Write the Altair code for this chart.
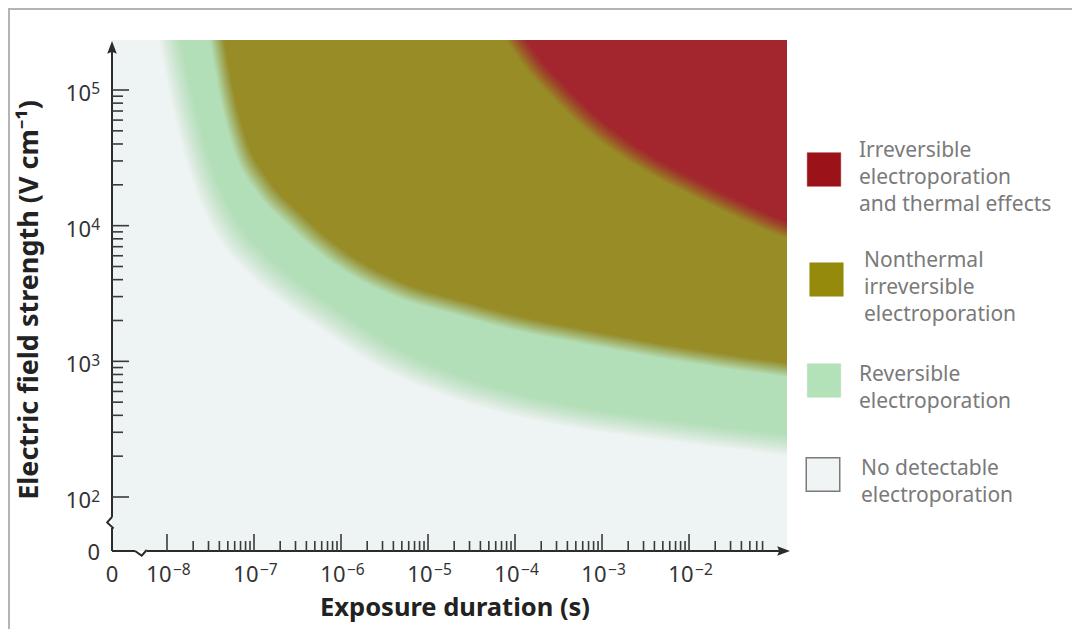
import altair as alt
import pandas as pd

# ---------------- data (log10 units) ----------------
# boundary curves: log10(exposure duration / s) -> log10(field strength / V cm-1)
reversible_log_t = [-8.080, -7.966, -7.851, -7.713, -7.529, -7.299, -6.989, -6.586, -6.126,
                    -5.517, -4.747, -3.977, -3.253, -2.103, -0.874, -0.379]
reversible_log_E = [5.811, 5.369, 5.000, 4.631, 4.263, 3.968, 3.732, 3.511, 3.305,
                    3.047, 2.826, 2.678, 2.582, 2.479, 2.383, 2.347]

nonthermal_log_t = [-7.552, -7.425, -7.299, -7.138, -6.908, -6.529, -6.011, -5.322, -4.632,
                    -3.943, -3.253, -2.184, -0.874, -0.379]
nonthermal_log_E = [5.811, 5.369, 4.926, 4.558, 4.300, 4.042, 3.762, 3.526, 3.393,
                    3.275, 3.187, 3.061, 2.936, 2.892]

thermal_log_t = [-4.402, -3.989, -3.770, -3.483, -3.138, -2.713, -2.333, -1.954, -1.414, -0.874, -0.379]
thermal_log_E = [5.811, 5.369, 5.177, 4.978, 4.764, 4.558, 4.410, 4.285, 4.116, 3.968, 3.894]

x_major = [1e-8, 1e-7, 1e-6, 1e-5, 1e-4, 1e-3, 1e-2]
x_major_exp = ["\u22128", "\u22127", "\u22126", "\u22125", "\u22124", "\u22123", "\u22122"]
x_minor = [m * 10.0 ** e for e in range(-8, -2) for m in range(2, 10)] + [m * 1e-2 for m in range(2, 8)]

y_major = [1e2, 1e3, 1e4, 1e5]
y_major_exp = ["2", "3", "4", "5"]
y_minor = [m * 10.0 ** e for e in range(2, 5) for m in range(2, 10)]

legend_names = [
    ["Irreversible", "electroporation", "and thermal effects"],
    ["Nonthermal", "irreversible", "electroporation"],
    ["Reversible", "electroporation"],
    ["No detectable", "electroporation"],
]
legend_colors = ["#9b1319", "#958a0b", "#b3e1b8", "#f0f4f5"]

# ---------------- layout / style ----------------
W, H = 675, 511
X_DOM = [10 ** -8.632, 10 ** -0.874]
Y_DOM = [10 ** 1.602, 10 ** 5.3685]
PX_PER_DEC_X, PX_PER_DEC_Y = 87.0, 135.67
FONT = "Noto Sans"
AX = "#2b2b2b"

xs = alt.Scale(type="log", domain=X_DOM, nice=False)
ys = alt.Scale(type="log", domain=Y_DOM, nice=False)
one = pd.DataFrame({"k": [0]})

layers = []


def region(lt, le, color, blur_px, n=14):
    out = []
    for k in range(n):
        s = -blur_px / 2 + blur_px * k / (n - 1)
        df = pd.DataFrame({
            "t": [10 ** (v + s / PX_PER_DEC_X) for v in lt],
            "E": [10 ** (v + s / PX_PER_DEC_Y) for v in le],
        })
        df["top"] = 10 ** 6.5
        out.append(
            alt.Chart(df).mark_area(color=color, opacity=1.0 / (n - k), clip=True,
                                    interpolate="monotone")
            .encode(x=alt.X("t:Q", scale=xs, axis=None),
                    y=alt.Y("E:Q", scale=ys, axis=None),
                    y2=alt.Y2("top:Q"))
        )
    return out


layers += region(reversible_log_t, reversible_log_E, "#b3dfb8", 18)
layers += region(nonthermal_log_t, nonthermal_log_E, "#988c27", 12)
layers += region(thermal_log_t, thermal_log_E, "#a3262f", 12)


# ---- axes lines ----
def rule(**kw):
    style = kw.pop("style", {})
    return alt.Chart(one).mark_rule(**style).encode(**kw)


axis_style = dict(color=AX, strokeWidth=2)
layers.append(rule(x=alt.value(0), y=alt.value(H), y2=alt.value(488), style=axis_style))
layers.append(rule(x=alt.value(0), y=alt.value(477), y2=alt.value(6), style=axis_style))
layers.append(rule(x=alt.value(0), x2=alt.value(23), y=alt.value(H), style=axis_style))
layers.append(rule(x=alt.value(35), x2=alt.value(670), y=alt.value(H), style=axis_style))

# axis break glyphs and arrowheads
layers.append(alt.Chart(one).mark_point(shape="M-1,0L0.12,0.78L0.95,-0.17", filled=False,
                                        stroke=AX, strokeWidth=2, size=144, opacity=1)
              .encode(x=alt.value(29), y=alt.value(H)))
layers.append(alt.Chart(one).mark_point(shape="M0,-1L-0.8,-0.1L0.15,0.8L0,1", filled=False,
                                        stroke=AX, strokeWidth=2, size=144, opacity=1)
              .encode(x=alt.value(0), y=alt.value(483)))
layers.append(alt.Chart(one).mark_point(shape="M0,-1L0.6,0.6L0,0.35L-0.6,0.6Z", filled=True,
                                        fill=AX, size=256, opacity=1, strokeWidth=0)
              .encode(x=alt.value(0), y=alt.value(9)))
layers.append(alt.Chart(one).mark_point(shape="M1,0L-0.6,0.6L-0.35,0L-0.6,-0.6Z", filled=True,
                                        fill=AX, size=256, opacity=1, strokeWidth=0)
              .encode(x=alt.value(670), y=alt.value(H)))

# ---- ticks ----
tick_style = dict(color="#3a3a3a", strokeWidth=1.6)
layers.append(alt.Chart(pd.DataFrame({"v": x_major})).mark_rule(**tick_style)
              .encode(x=alt.X("v:Q", scale=xs), y=alt.value(H), y2=alt.value(H - 17)))
layers.append(alt.Chart(pd.DataFrame({"v": x_minor})).mark_rule(**tick_style)
              .encode(x=alt.X("v:Q", scale=xs), y=alt.value(H), y2=alt.value(H - 10)))
layers.append(alt.Chart(pd.DataFrame({"v": y_major})).mark_rule(**tick_style)
              .encode(y=alt.Y("v:Q", scale=ys), x=alt.value(0), x2=alt.value(17)))
layers.append(alt.Chart(pd.DataFrame({"v": y_minor})).mark_rule(**tick_style)
              .encode(y=alt.Y("v:Q", scale=ys), x=alt.value(0), x2=alt.value(11)))

# ---- tick labels ("10" + raised exponent) ----
lab = dict(font=FONT, fontSize=22, color="#333333")
sup = dict(font=FONT, fontSize=15.5, color="#333333")
xdf = pd.DataFrame({"v": x_major, "base": ["10"] * len(x_major), "exp": x_major_exp})
ydf = pd.DataFrame({"v": y_major, "base": ["10"] * len(y_major), "exp": y_major_exp})
layers.append(alt.Chart(xdf).mark_text(align="right", baseline="alphabetic", dx=4.5, **lab)
              .encode(x=alt.X("v:Q", scale=xs), y=alt.value(542), text="base:N"))
layers.append(alt.Chart(xdf).mark_text(align="left", baseline="alphabetic", dx=6, **sup)
              .encode(x=alt.X("v:Q", scale=xs), y=alt.value(535), text="exp:N"))
layers.append(alt.Chart(ydf).mark_text(align="right", baseline="alphabetic", dy=11, **lab)
              .encode(y=alt.Y("v:Q", scale=ys), x=alt.value(-21), text="base:N"))
layers.append(alt.Chart(ydf).mark_text(align="right", baseline="alphabetic", dy=4.5, **sup)
              .encode(y=alt.Y("v:Q", scale=ys), x=alt.value(-12), text="exp:N"))
layers.append(alt.Chart(one).mark_text(align="center", baseline="alphabetic", **lab)
              .encode(x=alt.value(0), y=alt.value(542), text=alt.value("0")))
layers.append(alt.Chart(one).mark_text(align="right", baseline="alphabetic", **lab)
              .encode(x=alt.value(-12), y=alt.value(H + 9), text=alt.value("0")))

# ---- axis titles ----
ttl = dict(font=FONT, fontWeight="bold", color="#222222")
layers.append(alt.Chart(one).mark_text(align="center", baseline="alphabetic", fontSize=25.5, **ttl)
              .encode(x=alt.value(343), y=alt.value(576), text=alt.value("Exposure duration (s)")))
layers.append(alt.Chart(one).mark_text(align="center", baseline="middle", angle=270, fontSize=27, **ttl)
              .encode(x=alt.value(-82), y=alt.value(260),
                      text=alt.value("Electric field strength (V cm\u207b\u00b9)")))

# ---- legend ----
sq_x = [712, 714.5, 712, 711]
sq_y = [129.5, 239.5, 340.5, 434.5]
txt_x = [747, 752, 747, 749]
txt_y = [117, 227, 341, 435]
for i, (names, col) in enumerate(zip(legend_names, legend_colors)):
    stroke = "#7a7a7a" if i == 3 else col
    layers.append(alt.Chart(one).mark_point(shape="square", filled=True, fill=col, stroke=stroke,
                                            strokeWidth=1.5 if i == 3 else 0.5, size=1122, opacity=1)
                  .encode(x=alt.value(sq_x[i]), y=alt.value(sq_y[i])))
    for j, line in enumerate(names):
        layers.append(alt.Chart(one).mark_text(align="left", baseline="alphabetic", font=FONT,
                                               fontSize=21, color="#7a7a7a")
                      .encode(x=alt.value(txt_x[i]), y=alt.value(txt_y[i] + 27 * j),
                              text=alt.value(line)))

# ---- frame ----
frame = dict(color="#b4b4b4", strokeWidth=2)
layers.append(rule(x=alt.value(-104), x2=alt.value(960), y=alt.value(-31), style=frame))
layers.append(rule(x=alt.value(-103), y=alt.value(-32), y2=alt.value(590), style=frame))

chart = (
    alt.layer(*layers)
    .properties(width=W, height=H, autosize=alt.AutoSizeParams(type="none"),
                padding={"left": 104, "top": 32, "right": 285, "bottom": 78})
    .configure_view(fill="#eef3f3", strokeWidth=0)
)

chart.save("out.html", embed_options={"renderer": "svg", "actions": False})
